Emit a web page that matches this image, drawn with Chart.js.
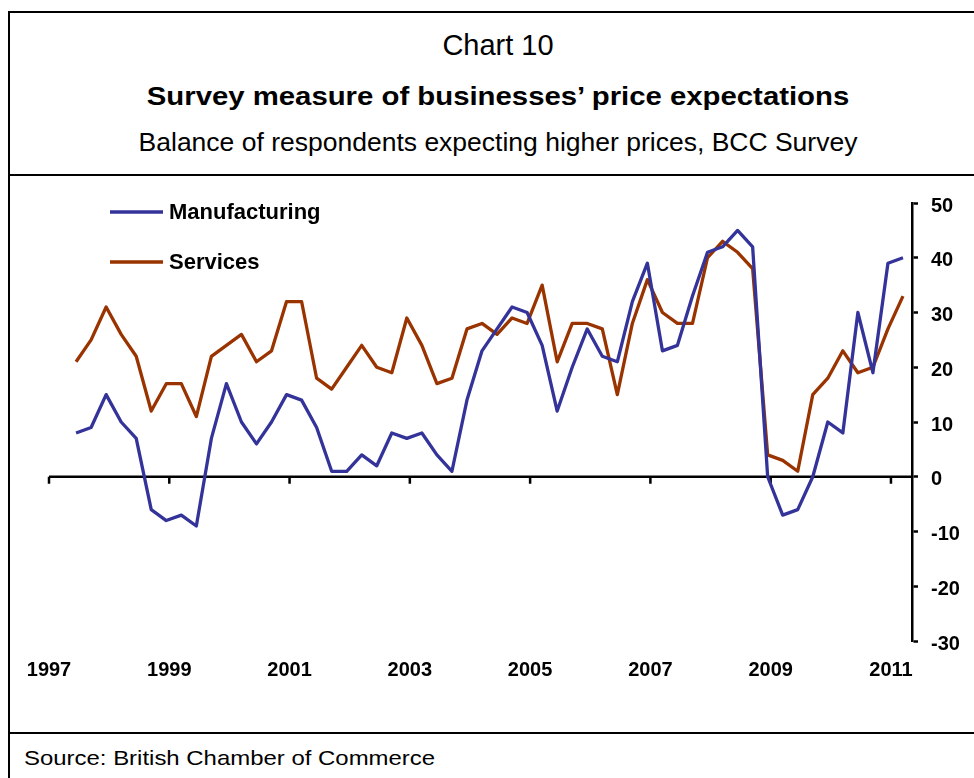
<!DOCTYPE html>
<html>
<head>
<meta charset="utf-8">
<script src="https://cdn.jsdelivr.net/npm/chart.js@4.4.1/dist/chart.umd.min.js"></script>
<style>
  body { margin: 0; background: #fff; font-family: "Liberation Sans", Arial, sans-serif; }
  #page { position: relative; width: 974px; height: 778px; overflow: hidden; }
  .rule { position: absolute; background: #000; }
  .head { position: absolute; left: 9px; width: 978px; text-align: center; line-height: 1; color: #000; white-space: nowrap; }
  #chartBox { position: absolute; left: 0; top: 177px; width: 974px; height: 554px; }
</style>
</head>
<body>
<div id="page">
  <div class="rule" style="left:8px; top:11px; width:990px; height:2px;"></div>
  <div class="rule" style="left:8px; top:11px; width:2px; height:790px;"></div>
  <div class="rule" style="left:8px; top:174px; width:990px; height:2px;"></div>
  <div class="rule" style="left:8px; top:732px; width:990px; height:2px;"></div>

  <div class="head" style="top:31px; font-size:29px;">Chart 10</div>
  <div class="head" style="top:84px; font-size:25.5px; font-weight:bold; transform:scaleX(1.15);">Survey measure of businesses’ price expectations</div>
  <div class="head" style="top:130px; font-size:25px; transform:scaleX(1.06);">Balance of respondents expecting higher prices, BCC Survey</div>
  <div class="head" style="top:747px; left:24px; width:auto; text-align:left; font-size:21px; transform:scaleX(1.14); transform-origin:left center;">Source: British Chamber of Commerce</div>

  <div id="chartBox"><canvas id="priceChart"></canvas></div>
</div>

<script>
// quarterly balances, 1997 Q2 to 2011 Q1
const manufacturing = [
    8, 9, 15, 10, 7, -6, -8, -7, -9, 7, 17, 10, 6, 10, 15, 14,
    9, 1, 1, 4, 2, 8, 7, 8, 4, 1, 14, 23, 27, 31, 30, 24,
    12, 20, 27, 22, 21, 32, 39, 23, 24, 33, 41, 42, 45, 42,
    0, -7, -6, 0, 10, 8, 30, 19, 39, 40
];
const services = [
    21, 25, 31, 26, 22, 12, 17, 17, 11, 22, 24, 26, 21, 23, 32, 32,
    18, 16, 20, 24, 20, 19, 29, 24, 17, 18, 27, 28, 26, 29, 28, 35,
    21, 28, 28, 27, 15, 28, 36, 30, 28, 28, 40, 43, 41, 38,
    4, 3, 1, 15, 18, 23, 19, 20, 27, 33
];
const tickYears = [1997, 1999, 2001, 2003, 2005, 2007, 2009, 2011];
const yTicks = [-30, -20, -10, 0, 10, 20, 30, 40, 50];

const firstYear = 1997;
const firstQuarter = 2;

const quarters = manufacturing.map((v, i) => {
    const n = firstQuarter - 1 + i;
    return { year: firstYear + Math.floor(n / 4), q: (n % 4) + 1 };
});

// each survey sits a little into its quarter on the date axis
function quarterPosition(item) {
    return item.year + (item.q - 1) / 4 + 0.2;
}

function toPoints(values) {
    return values.map((v, i) => ({ x: quarterPosition(quarters[i]), y: v }));
}

const fontFamily = '"Liberation Sans", Arial, sans-serif';
const axisFont = { family: fontFamily, size: 20, weight: 'bold' };

const zeroAxisPlugin = {
    id: 'zeroAxis',
    beforeDatasetsDraw(chart) {
        const { ctx, chartArea, scales } = chart;
        const y0 = scales.y.getPixelForValue(0);
        ctx.save();
        ctx.strokeStyle = '#000';
        ctx.lineWidth = 2.5;
        ctx.beginPath();
        ctx.moveTo(chartArea.left, y0);
        ctx.lineTo(chartArea.right, y0);
        tickYears.forEach(year => {
            const x = scales.x.getPixelForValue(year);
            ctx.moveTo(x, y0);
            ctx.lineTo(x, y0 + 7);
        });
        ctx.stroke();
        ctx.restore();
    }
};

const cornerLegendPlugin = {
    id: 'cornerLegend',
    afterDraw(chart) {
        const { ctx, chartArea } = chart;
        ctx.save();
        chart.data.datasets.forEach((ds, i) => {
            const x = chartArea.left + 61;
            const y = chartArea.top + 9 + i * 50;
            ctx.strokeStyle = ds.borderColor;
            ctx.lineWidth = ds.borderWidth;
            ctx.beginPath();
            ctx.moveTo(x, y);
            ctx.lineTo(x + 53, y);
            ctx.stroke();
            ctx.fillStyle = '#000';
            ctx.font = 'bold 22px ' + fontFamily;
            ctx.textBaseline = 'middle';
            ctx.fillText(ds.label, x + 59, y + 1);
        });
        ctx.restore();
    }
};

const ctx = document.getElementById('priceChart');

new Chart(ctx, {
    type: 'line',
    data: {
        datasets: [
            {
                label: 'Manufacturing',
                data: toPoints(manufacturing),
                borderColor: '#333399',
                borderWidth: 3.3,
                pointRadius: 0,
                tension: 0,
                borderJoinStyle: 'round'
            },
            {
                label: 'Services',
                data: toPoints(services),
                borderColor: '#993300',
                borderWidth: 3.3,
                pointRadius: 0,
                tension: 0,
                borderJoinStyle: 'round'
            }
        ]
    },
    options: {
        responsive: true,
        maintainAspectRatio: false,
        animation: false,
        layout: {
            padding: { left: 49, top: 26, right: 0, bottom: 0 }
        },
        plugins: {
            legend: { display: false },
            tooltip: { enabled: false }
        },
        scales: {
            x: {
                type: 'linear',
                min: 1997,
                max: 2011.35,
                afterBuildTicks: scale => {
                    scale.ticks = tickYears.map(v => ({ value: v }));
                },
                afterFit: scale => {
                    scale.height = 90;
                },
                grid: { display: false, drawTicks: false },
                border: { display: false },
                ticks: {
                    padding: 17,
                    color: '#000',
                    font: axisFont,
                    autoSkip: false,
                    maxRotation: 0,
                    callback: value => String(value)
                }
            },
            y: {
                position: 'right',
                min: yTicks[0],
                max: yTicks[yTicks.length - 1],
                afterBuildTicks: scale => {
                    scale.ticks = yTicks.map(v => ({ value: v }));
                },
                afterFit: scale => {
                    scale.width = 62;
                },
                grid: {
                    drawOnChartArea: false,
                    drawTicks: true,
                    tickLength: 6,
                    tickColor: '#000',
                    tickWidth: 2.5
                },
                border: { display: true, color: '#000', width: 2.5 },
                ticks: {
                    padding: 13,
                    labelOffset: 3,
                    color: '#000',
                    font: axisFont,
                    callback: value => String(value)
                }
            }
        }
    },
    plugins: [zeroAxisPlugin, cornerLegendPlugin]
});
</script>
</body>
</html>
